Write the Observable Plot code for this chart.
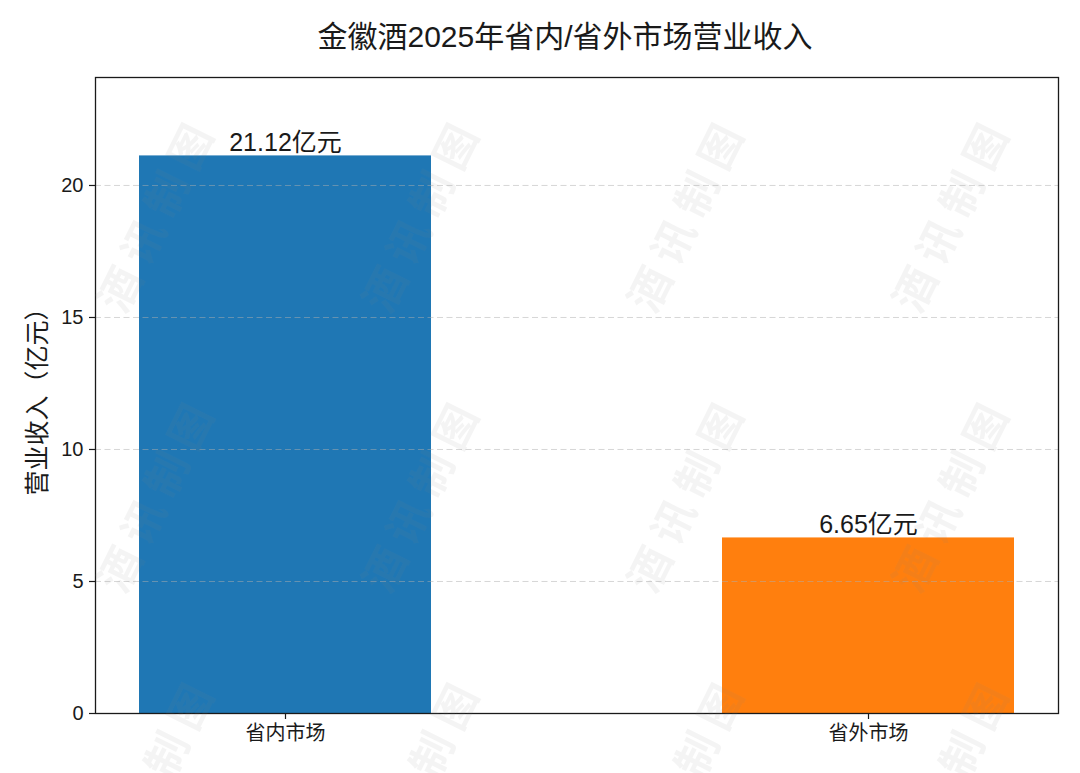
<!DOCTYPE html>
<html>
<head>
<meta charset="utf-8">
<script src="https://cdn.jsdelivr.net/npm/d3@7"></script>
<script src="https://cdn.jsdelivr.net/npm/@observablehq/plot@0.6"></script>
<style>
  html, body { margin: 0; padding: 0; background: #fff; }
  #wrap { position: relative; width: 1080px; height: 773px; overflow: hidden; background: #fff;
          font-family: "Liberation Sans", "Noto Sans CJK SC", sans-serif; }
  #title { box-sizing: border-box; height: 60px; padding-top: 22px; padding-left: 50px;
           font-size: 30px; line-height: 30px; text-align: center; color: #1a1a1a; white-space: nowrap; }
  #wm { position: absolute; left: 0; top: 0; pointer-events: none; }
</style>
</head>
<body>
<div id="wrap">
  <div id="title">金徽酒2025年省内/省外市场营业收入</div>
  <div id="chart"></div>
  <svg id="wm" width="1080" height="773">
    <defs>
      <pattern id="wmp" patternUnits="userSpaceOnUse" width="265" height="280" x="22" y="72">
        <text x="132.5" y="140" transform="rotate(-63.6 132.5 140)" text-anchor="middle"
              dominant-baseline="central" font-family="Noto Sans CJK SC" font-size="43"
              font-weight="bold" letter-spacing="10" fill="#808080" fill-opacity="0.085">酒讯制图</text>
      </pattern>
    </defs>
    <rect y="72" width="1080" height="701" fill="url(#wmp)"/>
  </svg>
</div>
<script>
const categories = ["省内市场", "省外市场"];
const revenues = [21.12, 6.65];
const barColors = ["#1f77b4", "#ff7f0e"];
const yTicks = [0, 5, 10, 15, 20];
const yMax = 24.09;
const yLabel = "营业收入（亿元）";
const valueLabels = revenues.map(v => v.toFixed(2) + "亿元");

const data = categories.map((c, i) => ({ category: c, value: revenues[i], label: valueLabels[i] }));

const chart = Plot.plot({
  width: 1080,
  height: 713,
  marginTop: 17,
  marginBottom: 60,
  marginLeft: 95,
  marginRight: 22,
  style: { fontFamily: '"Liberation Sans", "Noto Sans CJK SC", sans-serif', color: "#1a1a1a", background: "transparent", overflow: "visible" },
  x: { domain: categories, paddingInner: 0.5, paddingOuter: 0.075, align: 0.5 },
  y: { domain: [0, yMax] },
  color: { domain: categories, range: barColors },
  marks: [
    Plot.barY(data, { x: "category", y: "value", fill: "category", insetLeft: 0, insetRight: 0 }),
    Plot.gridY(yTicks.filter(t => t > 0), { stroke: "#b0b0b0", strokeOpacity: 0.5, strokeWidth: 1, strokeDasharray: "6,3.5" }),
    Plot.frame({ stroke: "#1a1a1a", strokeWidth: 1.3 }),
    Plot.axisY(yTicks, { tickSize: 6, tickPadding: 6, fontSize: 20, label: null, strokeWidth: 1.2 }),
    Plot.axisX({ tickSize: 6, tickPadding: 6, fontSize: 20, label: null, strokeWidth: 1.2 }),
    Plot.text(data, { x: "category", y: "value", text: "label", dy: -5, lineAnchor: "bottom", fontSize: 25, fill: "#1a1a1a" }),
    Plot.text([yLabel], { frameAnchor: "left", rotate: -90, dx: -58, textAnchor: "middle", lineAnchor: "middle", fontSize: 25, fill: "#1a1a1a" })
  ]
});
document.getElementById("chart").appendChild(chart);
</script>
</body>
</html>
